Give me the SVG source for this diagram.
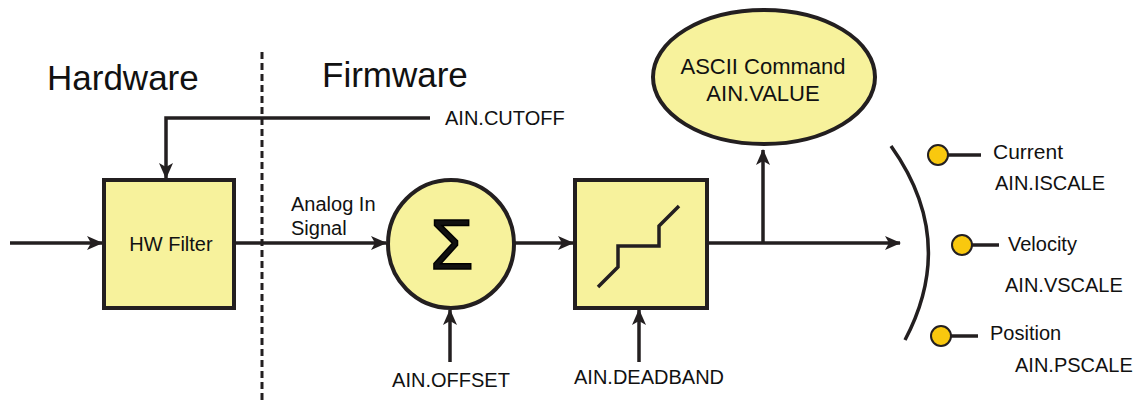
<svg xmlns="http://www.w3.org/2000/svg" width="1146" height="403" viewBox="0 0 1146 403">
<defs>
<marker id="ah" markerWidth="16" markerHeight="14" refX="15" refY="7" orient="auto" markerUnits="userSpaceOnUse" viewBox="0 0 16 14">
<path d="M0,0 L16,7 L0,14 L4,7 Z" fill="#231f20"/>
</marker>
<style>
.blk{fill:#f7f29c;stroke:#231f20;stroke-width:4}
.ln{fill:none;stroke:#231f20;stroke-width:3.5}
.t{font-family:"Liberation Sans",Arial,sans-serif;fill:#111}
.s{font-size:20px}
.big{font-size:35px}
.dot{fill:#f9c80e;stroke:#231f20;stroke-width:2}
</style>
</defs>
<rect width="1146" height="403" fill="#fff"/>
<line x1="262" y1="52" x2="262" y2="403" stroke="#231f20" stroke-width="3" stroke-dasharray="7,4"/>
<text class="t big" x="47" y="90">Hardware</text>
<text class="t big" x="322" y="87">Firmware</text>
<g id="connectors">
<path class="ln" d="M10,243 L102,243" marker-end="url(#ah)"/>
<path class="ln" d="M430,118 L166,118 L166,178" marker-end="url(#ah)"/>
<path class="ln" d="M234,243 L386,243" marker-end="url(#ah)"/>
<path class="ln" d="M514,243 L573,243" marker-end="url(#ah)"/>
<path class="ln" d="M707,243 L900,243" marker-end="url(#ah)"/>
<path class="ln" d="M763,243 L763,150" marker-end="url(#ah)"/>
<path class="ln" d="M450,362 L450,310" marker-end="url(#ah)"/>
<path class="ln" d="M639,362 L639,310" marker-end="url(#ah)"/>
</g>
<g id="hwfilter">
<rect class="blk" x="104" y="180" width="130" height="128"/>
<text class="t s" x="171" y="251" text-anchor="middle">HW Filter</text>
</g>
<g id="signal-label">
<text class="t s" x="291" y="211">Analog In</text>
<text class="t s" x="291" y="235">Signal</text>
</g>
<g id="cutoff">
<text class="t s" x="445" y="125">AIN.CUTOFF</text>
</g>
<g id="sum">
<ellipse class="blk" cx="451" cy="244" rx="63" ry="64"/>
<text class="t" x="452" y="269" text-anchor="middle" font-size="70" fill="#000" stroke="#000" stroke-width="1.5">Σ</text>
</g>
<g id="offset">
<text class="t s" x="451" y="387" text-anchor="middle">AIN.OFFSET</text>
</g>
<g id="deadband">
<rect class="blk" x="575" y="180" width="132" height="128"/>
<path class="ln" d="M598,287 L618,267 L618,246 L659,246 L659,226 L679,206"/>
<text class="t s" x="649" y="384" text-anchor="middle">AIN.DEADBAND</text>
</g>
<g id="ascii">
<ellipse class="blk" cx="764" cy="77" rx="111" ry="67"/>
<text class="t" x="763" y="74" text-anchor="middle" font-size="22">ASCII Command</text>
<text class="t" x="763" y="101" text-anchor="middle" font-size="22">AIN.VALUE</text>
</g>
<g id="bracket">
<path class="ln" d="M891,146 Q958,240 905,340"/>
</g>
<g id="current">
<line class="ln" x1="938" y1="155" x2="981" y2="155"/>
<circle class="dot" cx="938" cy="155" r="10"/>
<text class="t" font-size="21" x="993" y="159">Current</text>
<text class="t s" x="995" y="190">AIN.ISCALE</text>
</g>
<g id="velocity">
<line class="ln" x1="962" y1="245" x2="999" y2="245"/>
<circle class="dot" cx="962" cy="245" r="10"/>
<text class="t s" x="1008" y="251">Velocity</text>
<text class="t s" x="1005" y="292">AIN.VSCALE</text>
</g>
<g id="position">
<line class="ln" x1="941" y1="336" x2="978" y2="336"/>
<circle class="dot" cx="941" cy="336" r="10"/>
<text class="t s" x="990" y="340">Position</text>
<text class="t s" x="1015" y="372">AIN.PSCALE</text>
</g>
</svg>
